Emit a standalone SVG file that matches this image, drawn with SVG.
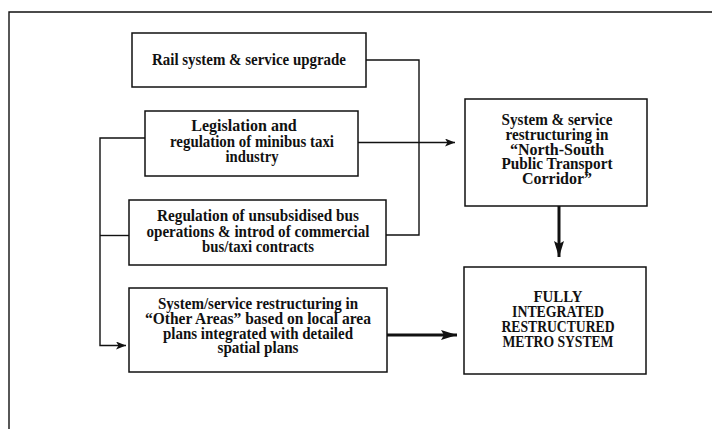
<svg xmlns="http://www.w3.org/2000/svg" width="712" height="429" viewBox="0 0 712 429">
<defs>
<style>
.box{fill:#fff;stroke:#111;stroke-width:1.5}
.ln{fill:none;stroke:#111;stroke-width:1.4}
.thick{fill:none;stroke:#111;stroke-width:3}
text{font-family:"Liberation Serif","Times New Roman",serif;font-weight:bold;font-size:16px;fill:#111;text-anchor:middle}
</style>
<marker id="ah" viewBox="0 0 10 8" refX="10" refY="4" markerWidth="10" markerHeight="8" markerUnits="userSpaceOnUse" orient="auto">
<path d="M0,0 L10,4 L0,8 L2.5,4 z" fill="#111"/>
</marker>
<marker id="ahT" viewBox="0 0 16 10" refX="16" refY="5" markerWidth="16" markerHeight="10" markerUnits="userSpaceOnUse" orient="auto">
<path d="M0,0 L16,5 L0,10 L3,5 z" fill="#111"/>
</marker>
</defs>
<rect width="712" height="429" fill="#fff"/>
<polyline class="ln" points="9,429 9,12 712,12"/>

<g id="connectors">
<polyline class="ln" points="366,60 419,60 419,235 386,235"/>
<line class="ln" x1="358" y1="142.5" x2="455" y2="142.5" marker-end="url(#ah)"/>
<polyline class="ln" points="145,138 100,138 100,345.5 126,345.5" marker-end="url(#ah)"/>
<line class="ln" x1="100" y1="235.5" x2="129" y2="235.5"/>
<line class="thick" x1="559" y1="206" x2="559" y2="257" marker-end="url(#ahT)"/>
<line class="thick" x1="387" y1="335" x2="457" y2="335" marker-end="url(#ahT)"/>
</g>

<g id="rail">
<rect class="box" x="132" y="33" width="234" height="54"/>
<text x="249" y="65" textLength="194" lengthAdjust="spacingAndGlyphs">Rail system &amp; service upgrade</text>
</g>

<g id="legislation">
<rect class="box" x="145" y="111" width="213" height="65"/>
<text x="244" y="131">Legislation and</text>
<text x="252" y="146.5" textLength="164" lengthAdjust="spacingAndGlyphs">regulation of minibus taxi</text>
<text x="252" y="162" textLength="53" lengthAdjust="spacingAndGlyphs">industry</text>
</g>

<g id="regulation">
<rect class="box" x="129" y="200" width="257" height="65"/>
<text x="258" y="221" textLength="202" lengthAdjust="spacingAndGlyphs">Regulation of unsubsidised bus</text>
<text x="258" y="236.5" textLength="223" lengthAdjust="spacingAndGlyphs">operations &amp; introd of commercial</text>
<text x="258" y="252" textLength="112" lengthAdjust="spacingAndGlyphs">bus/taxi contracts</text>
</g>

<g id="other-areas">
<rect class="box" x="129" y="288" width="258" height="84"/>
<text x="258" y="309" textLength="200" lengthAdjust="spacingAndGlyphs">System/service restructuring in</text>
<text x="258" y="324" textLength="226" lengthAdjust="spacingAndGlyphs">“Other Areas” based on local area</text>
<text x="258" y="338.5" textLength="190" lengthAdjust="spacingAndGlyphs">plans integrated with detailed</text>
<text x="258" y="353" textLength="81" lengthAdjust="spacingAndGlyphs">spatial plans</text>
</g>

<g id="north-south">
<rect class="box" x="465" y="99" width="182" height="107"/>
<text x="557" y="125" textLength="111" lengthAdjust="spacingAndGlyphs">System &amp; service</text>
<text x="557" y="140" textLength="103" lengthAdjust="spacingAndGlyphs">restructuring in</text>
<text x="557" y="154.5">“North-South</text>
<text x="557" y="169" textLength="111" lengthAdjust="spacingAndGlyphs">Public Transport</text>
<text x="557" y="184">Corridor”</text>
</g>

<g id="metro">
<rect class="box" x="464" y="267" width="182" height="107"/>
<text x="558" y="302" textLength="49" lengthAdjust="spacingAndGlyphs">FULLY</text>
<text x="558" y="317" textLength="92" lengthAdjust="spacingAndGlyphs">INTEGRATED</text>
<text x="558" y="332" textLength="113" lengthAdjust="spacingAndGlyphs">RESTRUCTURED</text>
<text x="558" y="347" textLength="111" lengthAdjust="spacingAndGlyphs">METRO SYSTEM</text>
</g>
</svg>
